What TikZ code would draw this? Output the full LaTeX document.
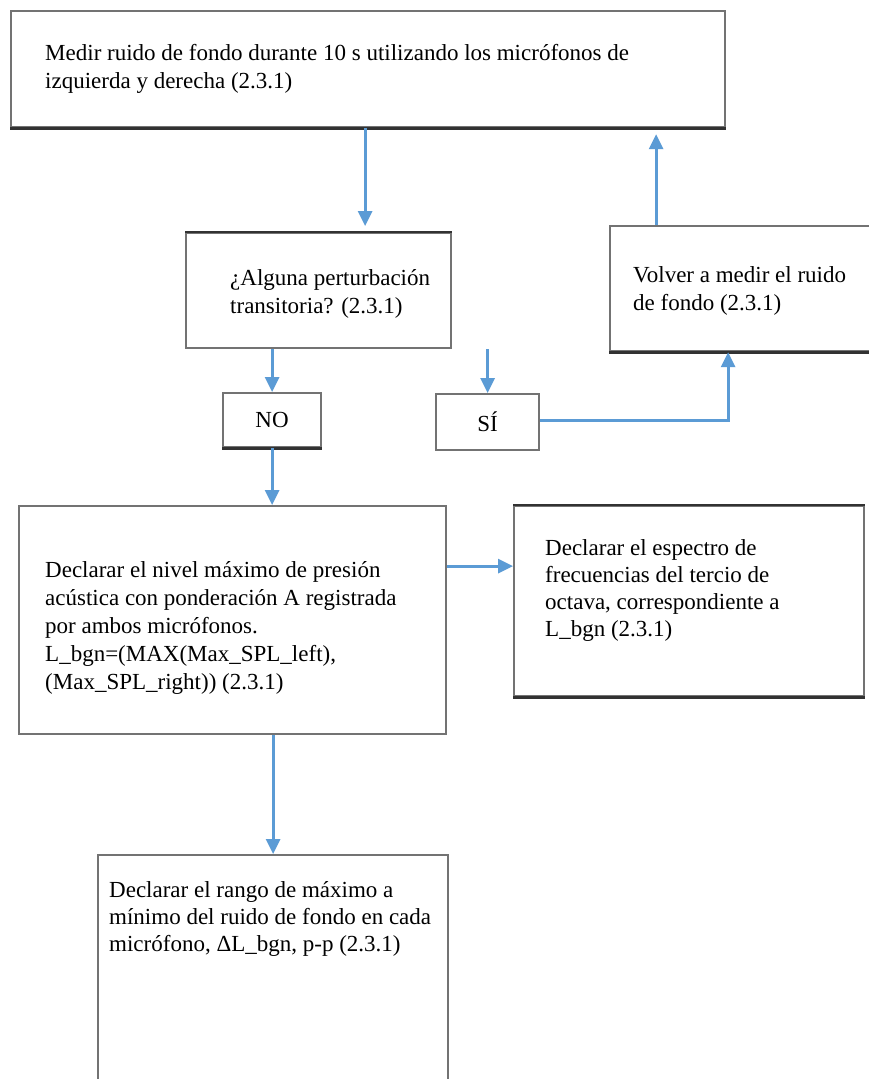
\documentclass[tikz,border=0pt]{standalone}
\usepackage{fontspec}
\setmainfont{Liberation Serif}
\usetikzlibrary{arrows.meta}
\definecolor{flow}{RGB}{91,155,213}
\definecolor{frame}{RGB}{115,115,115}
\definecolor{frameDark}{RGB}{50,50,50}
\begin{document}
\begin{tikzpicture}[x=1pt,y=-1pt,
  box/.style={draw=frame, line width=2.2pt, rectangle, inner sep=0pt, anchor=north west},
  darkedge/.style={draw=frameDark, line width=2.8pt},
  % multi-line text is placed by the baseline of its last line
  txt/.style={anchor=base west, align=left, inner sep=0pt,
              font=\fontsize{23}{28}\selectfont},
  tighttxt/.style={txt, font=\fontsize{23}{26.7}\selectfont},
  lbl/.style={inner sep=0pt, font=\fontsize{23}{28}\selectfont},
  arr/.style={draw=flow, line width=3pt, -{Triangle[width=14pt,length=15pt]}}]
\useasboundingbox (0,0) rectangle (869,1079);
\clip (0,0) rectangle (869,1079);
\fill[white] (0,0) rectangle (869,1079);

% boxes
\node[box, minimum width=714, minimum height=116] (b1) at (10,10) {};
\node[box, minimum width=265, minimum height=115] (b2) at (185,232) {};
\node[box, minimum width=271, minimum height=125] (vol) at (609,225) {};
\node[box, minimum width=98, minimum height=54] (no) at (222,392) {};
\node[box, minimum width=103, minimum height=56] (si) at (435,393) {};
\node[box, minimum width=427, minimum height=228] (b4) at (18,505) {};
\node[box, minimum width=350, minimum height=190] (b5) at (513,505) {};
\node[box, minimum width=350, minimum height=300] (b6) at (97,854) {};

% heavier edges
\draw[darkedge] (b1.south west) -- (b1.south east);
\draw[darkedge] (b2.north west) -- (b2.north east);
\draw[darkedge] (vol.south west) -- (vol.south east);
\draw[darkedge] (no.south west) -- (no.south east);
\draw[darkedge] (b5.north west) -- (b5.north east);
\draw[darkedge] (b5.south west) -- (b5.south east);

% texts
\node[txt] (t1) at (45,88) {Medir ruido de fondo durante 10 s utilizando los micrófonos de\\izquierda y derecha (2.3.1)};
\node[txt] (t2) at (230,313) {¿Alguna perturbación\\transitoria? (2.3.1)};
\node[txt] (tv) at (633,310) {Volver a medir el ruido\\de fondo (2.3.1)};
\node[lbl] (tno) at (no.center) {NO};
\node[lbl] (tsi) at (si.center) {SÍ};
\node[txt] (t4) at (45,689) {Declarar el nivel máximo de presión\\acústica con ponderación A registrada\\por ambos micrófonos.\\L\_bgn=(MAX(Max\_SPL\_left),\\(Max\_SPL\_right)) (2.3.1)};
\node[tighttxt] (t5) at (545,636) {Declarar el espectro de\\frecuencias del tercio de\\octava, correspondiente a\\L\_bgn (2.3.1)};
\node[tighttxt] (t6) at (109,951) {Declarar el rango de máximo a\\mínimo del ruido de fondo en cada\\micrófono, ΔL\_bgn, p-p (2.3.1)};

% connectors
\draw[arr, shorten >=6pt] ([xshift=-3]b1.south) -- ([xshift=-3]b1.south |- b2.north);
\draw[arr, shorten >=6pt] ([xshift=-89.5]vol.north) -- ([xshift=-89.5]vol.north |- b1.south);
\draw[arr] (no.north |- b2.south) -- (no.north);
\draw[arr] (si.north |- b2.south) -- (si.north);
\draw[arr] ([yshift=2]si.east) -| ([xshift=-17.5]vol.south);
\draw[arr] (no.south) -- (no.south |- b4.north);
\draw[arr] ([yshift=54]b4.east) -- ([yshift=54]b4.east -| b5.west);
\draw[arr] ([xshift=40.5]b4.south) -- ([xshift=40.5]b4.south |- b6.north);
\end{tikzpicture}
\end{document}
